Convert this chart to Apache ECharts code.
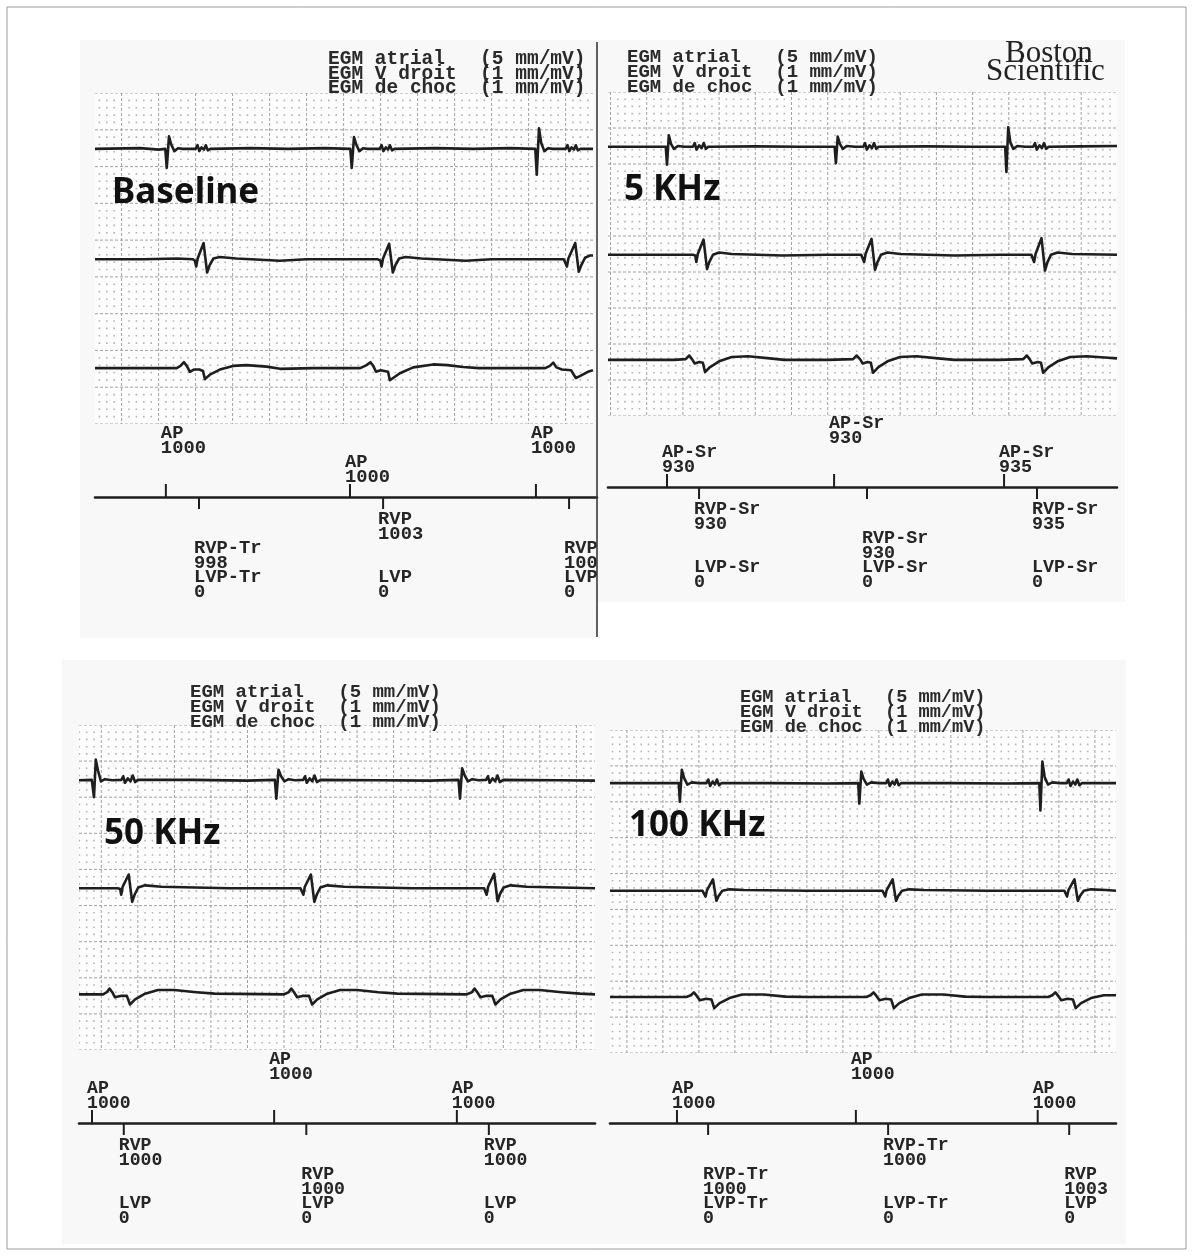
<!DOCTYPE html>
<html><head><meta charset="utf-8">
<script src="https://cdn.jsdelivr.net/npm/echarts@6.0.0/dist/echarts.min.js"></script>
<style>html,body{margin:0;padding:0;background:#fff}#c{width:1193px;height:1256px}</style>
</head><body><div id="c"></div>
<script>
// ---------------- DATA (time in ms, amplitude in paper mm) ----------------
const panelNames = ['Baseline', '5 KHz', '50 KHz', '100 KHz'];
const headerLines = ['EGM atrial   (5 mm/mV)', 'EGM V droit  (1 mm/mV)', 'EGM de choc  (1 mm/mV)'];
const logoLines = ['Boston', 'Scientific'];

// Panel 1 : Baseline
const baselineAtrial = [[-144,37.4],[100,37.5],[200,37.3],[236,37.4],[244,34.8],[256,39.1],[268,38.0],[285,37.1],[305,37.5],[330,37.4],[400,37.4],[410,37.9],[420,37.1],[432,37.6],[445,37.3],[455,37.9],[466,37.2],[480,37.4],[700,37.5],[900,37.4],[1100,37.5],[1236,37.4],[1244,34.8],[1256,39.0],[1268,38.0],[1285,37.1],[1305,37.5],[1330,37.4],[1395,37.4],[1405,37.9],[1415,37.1],[1428,37.6],[1440,37.3],[1450,37.9],[1462,37.2],[1475,37.4],[1700,37.5],[1900,37.4],[2100,37.5],[2236,37.4],[2244,33.9],[2256,40.2],[2268,38.2],[2285,37.1],[2305,37.5],[2330,37.4],[2400,37.4],[2410,37.9],[2420,37.1],[2432,37.6],[2445,37.3],[2455,37.9],[2466,37.2],[2480,37.4],[2548,37.4]];
const baselineVDroit = [[-144,22.4],[120,22.4],[300,22.5],[385,22.4],[396,22.2],[403,21.4],[411,22.5],[443,24.6],[462,20.6],[476,21.6],[496,22.5],[530,22.7],[620,22.5],[855,22.2],[1000,22.4],[1220,22.4],[1385,22.4],[1398,22.2],[1405,21.4],[1413,22.5],[1446,24.5],[1466,20.6],[1480,21.6],[1500,22.5],[1535,22.7],[1620,22.5],[1860,22.2],[2000,22.4],[2250,22.4],[2390,22.4],[2400,22.2],[2407,21.4],[2415,22.5],[2452,24.6],[2471,20.7],[2485,21.6],[2505,22.6],[2530,22.9],[2548,22.9]];
const baselineChoc = [[-144,7.6],[100,7.6],[297,7.6],[318,7.9],[337,8.4],[352,7.9],[369,7.1],[390,7.4],[420,7.4],[440,7.2],[450,6.1],[477,6.7],[531,7.4],[602,7.9],[675,8.0],[784,7.8],[856,7.5],[1035,7.6],[1290,7.6],[1324,8.0],[1345,8.4],[1360,7.9],[1375,7.1],[1400,7.3],[1440,7.1],[1450,5.95],[1504,6.9],[1576,7.7],[1684,8.1],[1760,8.0],[1846,7.75],[1930,7.6],[2290,7.6],[2315,7.9],[2333,8.35],[2350,7.7],[2380,7.4],[2430,7.3],[2455,6.25],[2477,6.5],[2520,7.1],[2548,7.3]];
const baselineAP = [239, 1234, 2239];
const baselineAPLabels = [['AP','1000'],['AP','1000'],['AP','1000']];
const baselineAPRows = [1, 0, 1];
const baselineVP = [418, 1413, 2418];
const baselineVPLabels = [['RVP-Tr','998'],['RVP','1003'],['RVP','1003']];
const baselineVPRows = [1, 0, 1];
const baselineLVPLabels = [['LVP-Tr','0'],['LVP','0'],['LVP','0']];

// Panel 2 : 5 KHz
const khz5Atrial = [[-214,37.4],[0,37.4],[105,37.4],[112,34.9],[122,39.0],[134,37.8],[150,37.1],[172,37.5],[210,37.4],[255,37.4],[265,37.9],[275,37.0],[290,37.6],[303,37.2],[315,37.9],[327,37.1],[340,37.4],[600,37.45],[850,37.4],[1038,37.4],[1045,35.1],[1055,38.8],[1067,37.8],[1083,37.1],[1105,37.5],[1150,37.4],[1196,37.4],[1206,37.9],[1216,37.0],[1231,37.6],[1244,37.2],[1256,37.9],[1268,37.1],[1280,37.4],[1550,37.45],[1800,37.4],[1980,37.4],[1987,33.9],[1997,40.1],[2009,38.0],[2025,37.1],[2047,37.5],[2090,37.4],[2135,37.4],[2145,37.9],[2155,37.0],[2170,37.6],[2183,37.2],[2195,37.9],[2207,37.1],[2220,37.4],[2400,37.45],[2598,37.5]];
const khz5VDroit = [[-214,22.4],[100,22.4],[255,22.4],[268,22.3],[274,21.4],[282,22.5],[314,24.5],[333,20.4],[346,21.4],[366,22.4],[400,22.7],[470,22.5],[750,22.3],[1000,22.4],[1185,22.4],[1195,22.3],[1201,21.4],[1209,22.5],[1242,24.6],[1261,20.3],[1274,21.3],[1294,22.4],[1330,22.7],[1400,22.5],[1700,22.3],[1950,22.4],[2125,22.4],[2134,22.3],[2140,21.4],[2148,22.5],[2181,24.7],[2200,20.2],[2213,21.3],[2233,22.4],[2270,22.7],[2350,22.5],[2598,22.4]];
const khz5Choc = [[-214,7.8],[150,7.8],[215,7.9],[235,8.4],[250,7.9],[265,7.3],[290,7.5],[310,7.4],[322,6.1],[350,6.8],[400,7.6],[470,8.2],[560,8.3],[680,8.0],[760,7.8],[1000,7.8],[1140,7.9],[1160,8.4],[1178,7.9],[1193,7.3],[1220,7.5],[1238,7.4],[1250,6.0],[1280,6.8],[1330,7.6],[1400,8.2],[1490,8.3],[1610,8.0],[1700,7.8],[1950,7.8],[2080,7.9],[2100,8.4],[2115,7.9],[2130,7.3],[2160,7.5],[2178,7.4],[2190,6.0],[2220,6.8],[2270,7.6],[2340,8.2],[2430,8.3],[2550,8.1],[2598,8.0]];
const khz5AP = [112, 1035, 1974];
const khz5APLabels = [['AP-Sr','930'],['AP-Sr','930'],['AP-Sr','935']];
const khz5APRows = [0, 1, 0];
const khz5VP = [289, 1217, 2156];
const khz5VPLabels = [['RVP-Sr','930'],['RVP-Sr','930'],['RVP-Sr','935']];
const khz5VPRows = [0, 1, 0];
const khz5LVPLabels = [['LVP-Sr','0'],['LVP-Sr','0'],['LVP-Sr','0']];

// Panel 3 : 50 KHz
const khz50Atrial = [[-122,37.35],[-52,37.4],[-40,35.0],[-30,40.2],[-18,38.7],[-2,37.2],[20,37.5],[60,37.35],[110,37.4],[120,37.9],[130,37.0],[145,37.6],[160,37.2],[172,38.0],[185,37.1],[200,37.4],[500,37.4],[800,37.3],[950,37.4],[958,34.8],[970,38.8],[984,37.9],[1002,37.2],[1025,37.5],[1060,37.35],[1105,37.4],[1115,37.9],[1125,37.0],[1140,37.6],[1155,37.2],[1167,38.0],[1180,37.1],[1200,37.4],[1500,37.35],[1800,37.3],[1955,37.4],[1963,34.8],[1975,39.0],[1989,38.0],[2007,37.2],[2030,37.5],[2065,37.35],[2106,37.4],[2116,37.9],[2126,37.0],[2141,37.6],[2156,37.2],[2168,38.0],[2181,37.1],[2200,37.4],[2500,37.35],[2702,37.3]];
const khz50VDroit = [[-122,22.4],[90,22.4],[103,22.3],[109,21.5],[117,22.6],[150,24.3],[169,20.5],[182,21.5],[202,22.5],[240,22.8],[330,22.6],[700,22.4],[1090,22.4],[1100,22.3],[1106,21.5],[1114,22.6],[1147,24.3],[1166,20.5],[1179,21.5],[1199,22.5],[1237,22.8],[1330,22.6],[1700,22.4],[2095,22.4],[2103,22.3],[2109,21.5],[2117,22.6],[2150,24.4],[2169,20.6],[2182,21.6],[2202,22.5],[2240,22.8],[2330,22.6],[2702,22.4]];
const khz50Choc = [[-122,7.7],[10,7.7],[30,8.0],[45,8.5],[60,8.0],[75,7.3],[110,7.5],[140,7.5],[157,6.3],[185,7.0],[240,7.8],[310,8.3],[400,8.3],[520,8.0],[620,7.8],[1000,7.7],[1025,8.0],[1040,8.5],[1055,8.0],[1072,7.3],[1105,7.5],[1137,7.5],[1154,6.3],[1182,7.0],[1237,7.8],[1307,8.3],[1400,8.3],[1517,8.0],[1620,7.8],[2000,7.7],[2028,8.0],[2043,8.5],[2058,8.0],[2075,7.3],[2108,7.5],[2140,7.5],[2157,6.3],[2185,7.0],[2240,7.8],[2310,8.3],[2400,8.3],[2520,8.0],[2620,7.8],[2702,7.7]];
const khz50AP = [-51, 946, 1946];
const khz50APLabels = [['AP','1000'],['AP','1000'],['AP','1000']];
const khz50APRows = [0, 1, 0];
const khz50VP = [123, 1122, 2121];
const khz50VPLabels = [['RVP','1000'],['RVP','1000'],['RVP','1000']];
const khz50VPRows = [0, 1, 0];
const khz50LVPLabels = [['LVP','0'],['LVP','0'],['LVP','0']];

// Panel 4 : 100 KHz
const khz100Atrial = [[-94,37.6],[200,37.6],[288,37.6],[294,35.0],[305,39.45],[318,38.3],[336,37.4],[360,37.7],[400,37.6],[442,37.6],[452,38.1],[462,37.2],[476,37.8],[489,37.4],[500,38.1],[512,37.3],[525,37.6],[800,37.6],[1100,37.55],[1285,37.6],[1291,34.75],[1302,39.2],[1315,38.2],[1333,37.4],[1357,37.7],[1400,37.6],[1440,37.6],[1450,38.1],[1460,37.2],[1474,37.8],[1487,37.4],[1498,38.1],[1510,37.3],[1523,37.6],[1800,37.6],[2100,37.55],[2291,37.6],[2297,33.8],[2308,40.6],[2321,38.4],[2339,37.4],[2363,37.7],[2405,37.6],[2444,37.6],[2454,38.1],[2464,37.2],[2478,37.8],[2491,37.4],[2502,38.1],[2514,37.3],[2527,37.6],[2717,37.6]];
const khz100VDroit = [[-94,22.6],[420,22.6],[431,22.5],[437,21.8],[445,22.7],[478,24.2],[497,21.2],[510,21.9],[530,22.6],[570,22.8],[650,22.7],[1000,22.6],[1420,22.6],[1429,22.5],[1435,21.8],[1443,22.7],[1476,24.2],[1495,21.2],[1508,21.9],[1528,22.6],[1568,22.8],[1650,22.7],[2000,22.6],[2430,22.6],[2439,22.5],[2445,21.8],[2453,22.7],[2486,24.2],[2505,21.2],[2518,21.9],[2538,22.6],[2578,22.8],[2660,22.7],[2717,22.6]];
const khz100Choc = [[-94,7.8],[330,7.8],[355,8.05],[372,8.45],[388,7.95],[405,7.35],[440,7.55],[470,7.45],[485,6.25],[515,6.95],[570,7.65],[640,8.15],[760,8.15],[880,7.85],[1000,7.8],[1330,7.8],[1353,8.05],[1370,8.45],[1386,7.95],[1403,7.35],[1438,7.55],[1468,7.45],[1483,6.25],[1513,6.95],[1568,7.65],[1638,8.15],[1758,8.15],[1878,7.85],[2000,7.8],[2340,7.8],[2363,8.05],[2380,8.45],[2396,7.95],[2413,7.35],[2448,7.55],[2478,7.45],[2493,6.25],[2523,6.95],[2578,7.65],[2650,8.05],[2717,8.05]];
const khz100AP = [278, 1272, 2282];
const khz100APLabels = [['AP','1000'],['AP','1000'],['AP','1000']];
const khz100APRows = [0, 1, 0];
const khz100VP = [451, 1451, 2457];
const khz100VPLabels = [['RVP-Tr','1000'],['RVP-Tr','1000'],['RVP','1003']];
const khz100VPRows = [1, 0, 1];
const khz100LVPLabels = [['LVP-Tr','0'],['LVP-Tr','0'],['LVP','0']];

// ---------------- LAYOUT / STYLE ----------------
const traces = [
  [baselineAtrial, baselineVDroit, baselineChoc],
  [khz5Atrial, khz5VDroit, khz5Choc],
  [khz50Atrial, khz50VDroit, khz50Choc],
  [khz100Atrial, khz100VDroit, khz100Choc]
];
const markers = [
  {ap: baselineAP, apL: baselineAPLabels, apR: baselineAPRows, vp: baselineVP, vpL: baselineVPLabels, vpR: baselineVPRows, lvp: baselineLVPLabels},
  {ap: khz5AP, apL: khz5APLabels, apR: khz5APRows, vp: khz5VP, vpL: khz5VPLabels, vpR: khz5VPRows, lvp: khz5LVPLabels},
  {ap: khz50AP, apL: khz50APLabels, apR: khz50APRows, vp: khz50VP, vpL: khz50VPLabels, vpR: khz50VPRows, lvp: khz50LVPLabels},
  {ap: khz100AP, apL: khz100APLabels, apR: khz100APRows, vp: khz100VP, vpL: khz100VPLabels, vpR: khz100VPRows, lvp: khz100LVPLabels}
];
const layout = [
  {paper: {left: 95, top: 93, width: 498, height: 331}, x: [-144, 2548], y: [0, 45],
   mark: {left: 95, width: 502, line: 497, xMax: 2569}, header: [328, 59, 19.5], title: [112, 193], mf: 18.8},
  {paper: {left: 608, top: 92, width: 509, height: 324}, x: [-214, 2598], y: [0, 45],
   mark: {left: 608, width: 509, line: 487, xMax: 2598}, header: [627, 57.5, 19], title: [624, 190], mf: 18.4},
  {paper: {left: 79, top: 725, width: 516, height: 325}, x: [-122, 2702], y: [0, 45],
   mark: {left: 79, width: 516, line: 1123, xMax: 2702}, header: [190, 692.5, 19], title: [104, 834], mf: 18.2},
  {paper: {left: 610, top: 730, width: 506, height: 323}, x: [-94, 2717], y: [0, 45],
   mark: {left: 610, width: 506, line: 1123, xMax: 2717}, header: [740, 697.5, 18.6], title: [629, 826], mf: 18.2}
];
const MONO = '"Liberation Mono", "DejaVu Sans Mono", monospace';
const INK = '#1e1e1e';
const ROW = {apNear: -35, apFar: -64, vNear: 22, vFar: 51, lvp: 80, lh: 15};

function paperRender(xr, yr) {
  return function (params, api) {
    const cs = params.coordSys;
    let dots = '', major = '';
    for (let t = Math.ceil(xr[0] / 40) * 40; t <= xr[1]; t += 40) {
      const x = api.coord([t, 0])[0];
      const isMajor = Math.round(t) % 200 === 0;
      if (isMajor) {
        major += 'M' + x.toFixed(1) + ' ' + cs.y + 'L' + x.toFixed(1) + ' ' + (cs.y + cs.height);
        continue;
      }
      for (let m = Math.ceil(yr[0]); m <= yr[1]; m++) {
        if (m % 5 === 0) continue;
        const y = api.coord([t, m])[1];
        dots += 'M' + (x - 0.8).toFixed(1) + ' ' + (y - 0.8).toFixed(1) + 'h1.6v1.6h-1.6Z';
      }
    }
    for (let m = Math.ceil(yr[0] / 5) * 5; m <= yr[1]; m += 5) {
      const y = api.coord([0, m])[1];
      major += 'M' + cs.x + ' ' + y.toFixed(1) + 'L' + (cs.x + cs.width) + ' ' + y.toFixed(1);
    }
    return {type: 'group', children: [
      {type: 'rect', shape: {x: cs.x, y: cs.y, width: cs.width, height: cs.height}, style: {fill: '#fdfdfd'}},
      {type: 'path', shape: {pathData: dots}, style: {fill: '#b4b4b4'}},
      {type: 'path', shape: {pathData: major}, style: {stroke: '#a2a2a2', lineWidth: 1, lineDash: [3, 2], fill: null}}
    ]};
  };
}

function txt(x, y, lines, fs) {
  return {type: 'text', style: {x: x, y: y - ROW.lh / 2, text: lines.join('\n'), font: 'bold ' + fs + 'px ' + MONO,
    fill: '#262626', lineHeight: ROW.lh, align: 'left', verticalAlign: 'top'}};
}
function apRender(labels, rows, fs) {
  return function (params, api) {
    const i = params.dataIndex;
    const p = api.coord([api.value(0), 0]);
    const off = rows[i] ? ROW.apFar : ROW.apNear;
    return {type: 'group', children: [
      {type: 'line', shape: {x1: p[0], y1: p[1], x2: p[0], y2: p[1] - 13}, style: {stroke: INK, lineWidth: 2}},
      txt(p[0] - 5, p[1] + off, labels[i], fs)
    ]};
  };
}
function vpRender(labels, rows, lvp, fs) {
  return function (params, api) {
    const i = params.dataIndex;
    const p = api.coord([api.value(0), 0]);
    const off = rows[i] ? ROW.vFar : ROW.vNear;
    return {type: 'group', children: [
      {type: 'line', shape: {x1: p[0], y1: p[1], x2: p[0], y2: p[1] + 12}, style: {stroke: INK, lineWidth: 2}},
      txt(p[0] - 5, p[1] + off, labels[i], fs),
      txt(p[0] - 5, p[1] + ROW.lvp, lvp[i], fs)
    ]};
  };
}

const grid = [], xAxis = [], yAxis = [], series = [], graphic = [];
graphic.push({type: 'rect', shape: {x: 7, y: 7, width: 1179, height: 1242}, style: {fill: '#fff', stroke: '#9a9a9a', lineWidth: 1}, z: -10});
[[80, 40, 517, 598], [598, 40, 527, 562], [62, 660, 538, 584], [600, 660, 526, 584]].forEach(r => {
  graphic.push({type: 'rect', shape: {x: r[0], y: r[1], width: r[2], height: r[3]}, style: {fill: '#f8f8f8'}, z: -9});
});

layout.forEach((L, i) => {
  const pg = grid.length;
  grid.push(Object.assign({outerBoundsMode: 'none', containLabel: false}, L.paper));
  xAxis.push({type: 'value', gridIndex: pg, min: L.x[0], max: L.x[1], show: false});
  yAxis.push({type: 'value', gridIndex: pg, min: L.y[0], max: L.y[1], show: false});
  const mg = grid.length;
  grid.push({outerBoundsMode: 'none', containLabel: false, left: L.mark.left, width: L.mark.width, top: L.mark.line - 110, height: 220});
  xAxis.push({type: 'value', gridIndex: mg, min: L.x[0], max: L.mark.xMax,
    axisLine: {show: true, onZero: true, lineStyle: {color: INK, width: 2.6}},
    axisTick: {show: false}, axisLabel: {show: false}, splitLine: {show: false}});
  yAxis.push({type: 'value', gridIndex: mg, min: -1, max: 1, show: false});

  series.push({type: 'custom', xAxisIndex: pg, yAxisIndex: pg, data: [[L.x[0], 0]], clip: true, silent: true, z: 1,
    renderItem: paperRender(L.x, L.y), animation: false});
  traces[i].forEach(d => {
    series.push({type: 'line', xAxisIndex: pg, yAxisIndex: pg, data: d, showSymbol: false, symbol: 'none', clip: true,
      silent: true, animation: false, z: 3, lineStyle: {color: INK, width: 2.6, join: 'round'}});
  });
  const M = markers[i];
  series.push({type: 'custom', xAxisIndex: mg, yAxisIndex: mg, data: M.ap.map(t => [t, 0]), clip: true, silent: true, z: 4,
    renderItem: apRender(M.apL, M.apR, L.mf), animation: false});
  series.push({type: 'custom', xAxisIndex: mg, yAxisIndex: mg, data: M.vp.map(t => [t, 0]), clip: true, silent: true, z: 4,
    renderItem: vpRender(M.vpL, M.vpR, M.lvp, L.mf), animation: false});

  graphic.push({type: 'text', z: 10, style: {x: L.header[0], y: L.header[1] - 7.5, text: headerLines.join('\n'),
    font: 'bold ' + L.header[2] + 'px ' + MONO, fill: '#2a2a2a', lineHeight: 14.8, align: 'left', verticalAlign: 'top'}});
  graphic.push({type: 'text', z: 10, style: {x: L.title[0], y: L.title[1], text: panelNames[i],
    font: 'bold 35px "Noto Sans", "Open Sans", sans-serif', fill: '#111', align: 'left', verticalAlign: 'middle'}});
});

graphic.push({type: 'line', shape: {x1: 597, y1: 42, x2: 597, y2: 637}, style: {stroke: '#3a3a3a', lineWidth: 1.6}, z: 10});
graphic.push({type: 'text', z: 10, style: {x: 1005, y: 54, text: logoLines[0], font: '31px "Liberation Serif", "DejaVu Serif", serif', fill: '#222', align: 'left', verticalAlign: 'middle'}});
graphic.push({type: 'text', z: 10, style: {x: 986, y: 72, text: logoLines[1], font: '31px "Liberation Serif", "DejaVu Serif", serif', fill: '#222', align: 'left', verticalAlign: 'middle'}});

const chart = echarts.init(document.getElementById('c'), null, {renderer: 'canvas'});
chart.setOption({animation: false, backgroundColor: '#fff', grid, xAxis, yAxis, series, graphic});
</script></body></html>
